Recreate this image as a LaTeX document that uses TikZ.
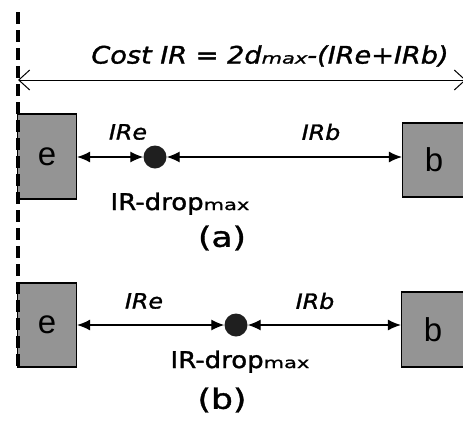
\documentclass[tikz,border=0pt]{standalone}
\usepackage{fontspec}
\setmainfont{Liberation Sans}
\newfontfamily\gul[FakeStretch=1.13,FakeBold=1.4]{DejaVu Sans}
\newfontfamily\gulp[FakeStretch=1.23,FakeBold=1.4]{DejaVu Sans}
\newfontfamily\gulw[FakeStretch=1.4,FakeBold=1.2]{DejaVu Sans}
\usetikzlibrary{arrows.meta}
\begin{document}
\begin{tikzpicture}[x=1pt,y=-1pt,
  blk/.style={draw=black,line width=1.2pt,fill=black!42,inner sep=0pt,font=\fontsize{33}{33}\selectfont},
  dotn/.style={circle,fill=black!88,minimum size=23pt,inner sep=0pt},
  conn/.style={line width=1.3pt,{Latex[length=13pt,width=11pt]}-{Latex[length=13pt,width=11pt]}},
  lab/.style={font=\gul\itshape\fontsize{21}{21}\selectfont,inner sep=0pt},
  dlab/.style={font=\gul\fontsize{23}{23}\selectfont,inner sep=0pt},
  sublab/.style={font=\gulp\fontsize{28}{28}\selectfont,inner sep=0pt}]
\useasboundingbox (0,0) rectangle (463,429);
% vertical dashed line
\coordinate (vt) at (18,12);
\coordinate (vb) at (18,367);
% top dimension
\coordinate (tl) at (18,80);
\coordinate (tr) at (466,80);
\draw[line width=1pt,{Straight Barb[length=11pt,width=20pt]}-{Straight Barb[length=11pt,width=20pt]}] (tl) -- (tr);
\node[font=\gul\itshape\fontsize{24}{24}\selectfont,inner sep=0pt] (cost) at (270,56) {Cost IR = 2d{\gulw\itshape\fontsize{15}{15}\selectfont max}-(IRe+IRb)};
% (a)
\node[blk,minimum width=59pt,minimum height=85pt] (ea) at (47,156.5) {e};
\node[blk,minimum width=63pt,minimum height=74pt] (ba) at (434,160) {b};
\node[dotn] (da) at (155,157) {};
\draw[conn] (ea.east|-da) -- (da.west);
\draw[conn] (da.east) -- (ba.west|-da);
\node[lab] (irea) at (128,132) {IRe};
\node[lab] (irba) at (321,132) {IRb};
\node[dlab,anchor=base] (dropa) at (180,210) {IR-drop{\gulw\fontsize{15}{15}\selectfont max}};
\node[sublab] (capa) at (222,238) {(a)};
% (b)
\node[blk,minimum width=59pt,minimum height=84pt] (eb) at (47,325) {e};
\node[blk,minimum width=63pt,minimum height=75pt] (bb) at (433,329.5) {b};
\node[dotn] (db) at (236,325) {};
\draw[conn] (eb.east|-db) -- (db.west);
\draw[conn] (db.east) -- (bb.west|-db);
\node[lab] (ireb) at (144,301) {IRe};
\node[lab] (irbb) at (315,301) {IRb};
\node[dlab,anchor=base] (dropb) at (240,368) {IR-drop{\gulw\fontsize{15}{15}\selectfont max}};
\node[sublab] (capb) at (222,400) {(b)};
\draw[line width=3.2pt,dash pattern=on 12pt off 6pt] (vt) -- (vb);
\end{tikzpicture}
\end{document}
